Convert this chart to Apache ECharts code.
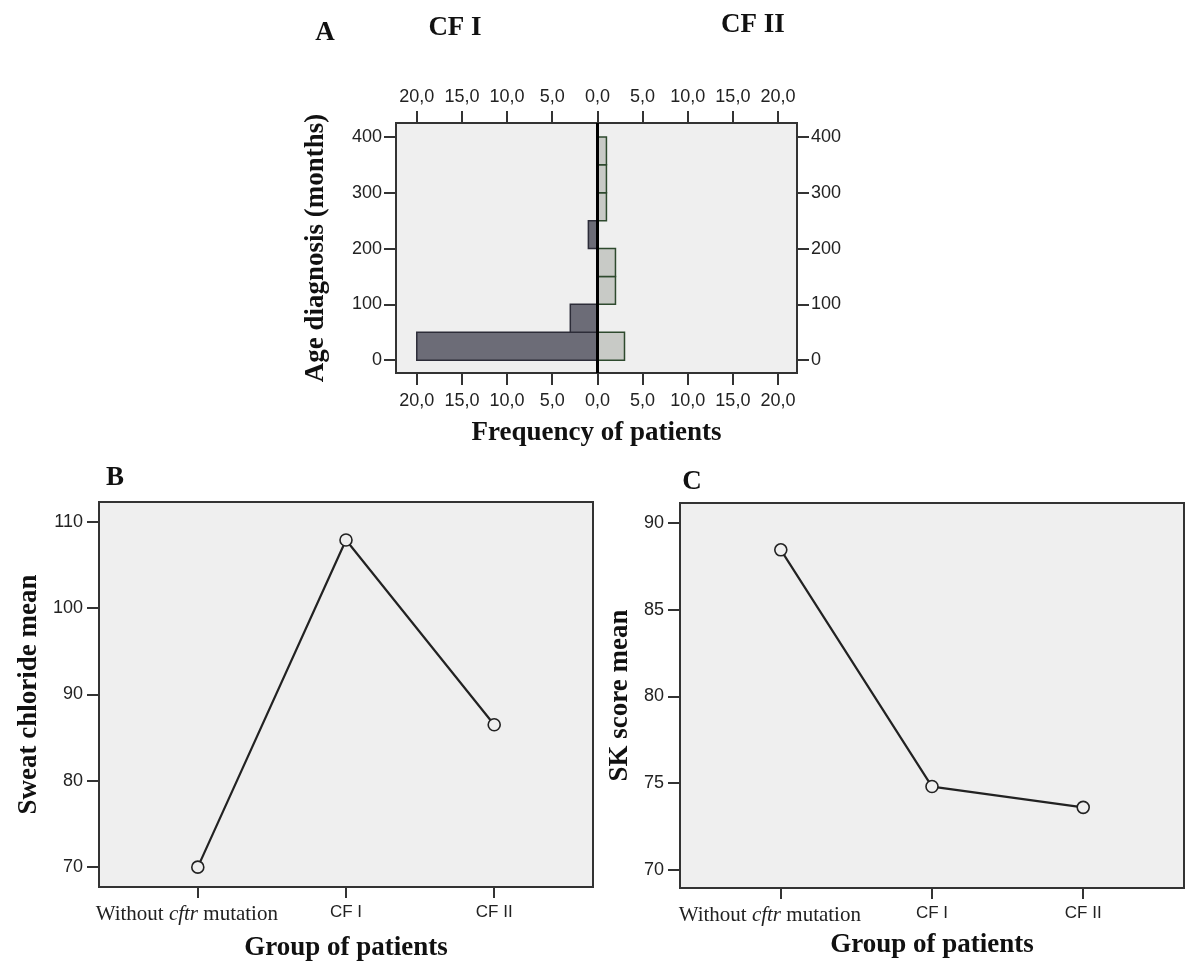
<!DOCTYPE html>
<html>
<head>
<meta charset="utf-8">
<script src="https://cdn.jsdelivr.net/npm/echarts@6/dist/echarts.min.js"></script>
<style>
  html, body { margin: 0; background: #fff; }
  #main { width: 1189px; height: 963px; }
</style>
</head>
<body>
<div id="main"></div>
<script>
// A: age at diagnosis, bins of 50 months
var binStart = [0, 50, 100, 150, 200, 250, 300, 350];
var binWidth = 50;
var cf1Count = [20, 3, 0, 0, 1, 0, 0, 0];
var cf2Count = [3, 0, 2, 2, 0, 1, 1, 1];
var freqTicks = [-20, -15, -10, -5, 0, 5, 10, 15, 20];
var ageTicks = [0, 100, 200, 300, 400];

// B, C: means per group
var groups = ['Without cftr mutation', 'CF I', 'CF II'];
var sweatMean = [70.0, 107.9, 86.5];
var skMean = [88.45, 74.8, 73.6];
var sweatTicks = [70, 80, 90, 100, 110];
var skTicks = [70, 75, 80, 85, 90];

var serifBold = { fontFamily: 'Liberation Serif', fontWeight: 'bold', fontSize: 27, color: '#111' };
var sansLabel = { fontFamily: 'Liberation Sans', fontSize: 18, color: '#222' };
var tickStyle = { color: '#333', width: 2 };
var titleFont = 'bold 27px "Liberation Serif"';

function freqLabel(v) {
  return Math.abs(v).toFixed(1).replace('.', ',');
}

// "cftr" is set in italics, the other group names in a sans face
function groupLabel(v) {
  var name = groups[Math.round(v) - 1];
  if (name.indexOf('cftr') >= 0) {
    var parts = name.split('cftr');
    return '{t|' + parts[0] + '}{i|cftr}{e|' + parts[1] + '}';
  }
  return '{s|' + name + '}';
}

var groupRich = {
  t: { fontFamily: 'Liberation Serif', fontSize: 21, color: '#222' },
  i: { fontFamily: 'Liberation Serif', fontSize: 21, fontStyle: 'italic', color: '#222' },
  e: { fontFamily: 'Liberation Serif', fontSize: 21, color: '#222', padding: [0, 22, 0, 0] },
  s: { fontFamily: 'Liberation Sans', fontSize: 17, color: '#222' }
};

function binData(counts) {
  var out = [];
  for (var i = 0; i < binStart.length; i++) {
    if (counts[i] > 0) out.push([binStart[i], counts[i]]);
  }
  return out;
}

function barItem(sign) {
  return function (params, api) {
    var lo = api.value(0), n = api.value(1);
    var a = api.coord([0, lo]);
    var b = api.coord([sign * n, lo + binWidth]);
    return {
      type: 'rect',
      shape: { x: Math.min(a[0], b[0]), y: b[1], width: Math.abs(b[0] - a[0]), height: a[1] - b[1] },
      style: api.style()
    };
  };
}

function valueAxis(grid, ticks, extra) {
  var ax = {
    type: 'value', gridIndex: grid,
    axisLine: { show: false, onZero: false },
    splitLine: { show: false },
    axisTick: { customValues: ticks, length: 12, lineStyle: tickStyle },
    axisLabel: Object.assign({ customValues: ticks, margin: 16 }, sansLabel)
  };
  return Object.assign(ax, extra);
}

function groupAxis(grid, gap) {
  return {
    type: 'value', gridIndex: grid, min: 1 / 3, max: 11 / 3,
    axisLine: { show: false, onZero: false },
    splitLine: { show: false },
    axisTick: { customValues: [1, 2, 3], length: 11, lineStyle: tickStyle },
    axisLabel: { customValues: [1, 2, 3], formatter: groupLabel, margin: 17, rich: groupRich },
    name: 'Group of patients', nameLocation: 'middle', nameGap: gap, nameTextStyle: serifBold
  };
}

function meanLine(xi, yi, values) {
  return {
    type: 'line', xAxisIndex: xi, yAxisIndex: yi,
    data: groups.map(function (g, i) { return [i + 1, values[i]]; }),
    symbol: 'circle', symbolSize: 12,
    itemStyle: { color: '#efefef', borderColor: '#222', borderWidth: 1.6 },
    lineStyle: { color: '#222', width: 2.2 }
  };
}

function titleText(x, y, text) {
  return { type: 'text', x: x, y: y, style: { text: text, align: 'center', verticalAlign: 'middle', font: titleFont, fill: '#111' } };
}

var gridStyle = { show: true, backgroundColor: '#efefef', borderColor: '#333', borderWidth: 2 };

var option = {
  backgroundColor: '#fff',
  animation: false,
  grid: [
    Object.assign({ left: 396, right: 392, top: 123, bottom: 590 }, gridStyle),
    Object.assign({ left: 99, right: 596, top: 502, bottom: 76 }, gridStyle),
    Object.assign({ left: 680, right: 5, top: 503, bottom: 75 }, gridStyle)
  ],
  xAxis: [
    valueAxis(0, freqTicks, {
      min: -22.3, max: 22.1, position: 'bottom',
      axisLabel: Object.assign({ customValues: freqTicks, formatter: freqLabel, margin: 19 }, sansLabel),
      name: 'Frequency of patients', nameLocation: 'middle', nameGap: 47, nameTextStyle: serifBold
    }),
    valueAxis(0, freqTicks, {
      min: -22.3, max: 22.1, position: 'top',
      axisLabel: Object.assign({ customValues: freqTicks, formatter: freqLabel, margin: 17 }, sansLabel)
    }),
    groupAxis(1, 48),
    groupAxis(2, 44)
  ],
  yAxis: [
    valueAxis(0, ageTicks, {
      min: -23, max: 425, position: 'left',
      axisLabel: Object.assign({ customValues: ageTicks, margin: 14 }, sansLabel),
      name: 'Age diagnosis (months)', nameLocation: 'middle', nameGap: 66, nameTextStyle: serifBold
    }),
    valueAxis(0, ageTicks, {
      min: -23, max: 425, position: 'right',
      axisLabel: Object.assign({ customValues: ageTicks, margin: 14 }, sansLabel)
    }),
    valueAxis(1, sweatTicks, {
      min: 67.7, max: 112.3,
      name: 'Sweat chloride mean', nameLocation: 'middle', nameGap: 56, nameTextStyle: serifBold
    }),
    valueAxis(2, skTicks, {
      min: 68.95, max: 91.15,
      name: 'SK score mean', nameLocation: 'middle', nameGap: 46, nameTextStyle: serifBold
    })
  ],
  graphic: [
    titleText(325, 33, 'A'),
    titleText(455, 28, 'CF I'),
    titleText(753, 25, 'CF II'),
    titleText(115, 478, 'B'),
    titleText(692, 482, 'C')
  ],
  series: [
    {
      type: 'custom', name: 'CF I', xAxisIndex: 0, yAxisIndex: 0,
      renderItem: barItem(-1),
      data: binData(cf1Count),
      itemStyle: { color: '#6c6c77', borderColor: '#2c2c38', borderWidth: 1.5 }
    },
    {
      type: 'custom', name: 'CF II', xAxisIndex: 0, yAxisIndex: 0,
      renderItem: barItem(1),
      data: binData(cf2Count),
      itemStyle: { color: '#c8cac6', borderColor: '#2e4a2e', borderWidth: 1.5 },
      markLine: {
        silent: true, symbol: 'none', label: { show: false },
        lineStyle: { color: '#000', width: 3, type: 'solid' },
        data: [{ xAxis: 0 }]
      }
    },
    meanLine(2, 2, sweatMean),
    meanLine(3, 3, skMean)
  ]
};

var chart = echarts.init(document.getElementById('main'));
chart.setOption(option);
</script>
</body>
</html>
